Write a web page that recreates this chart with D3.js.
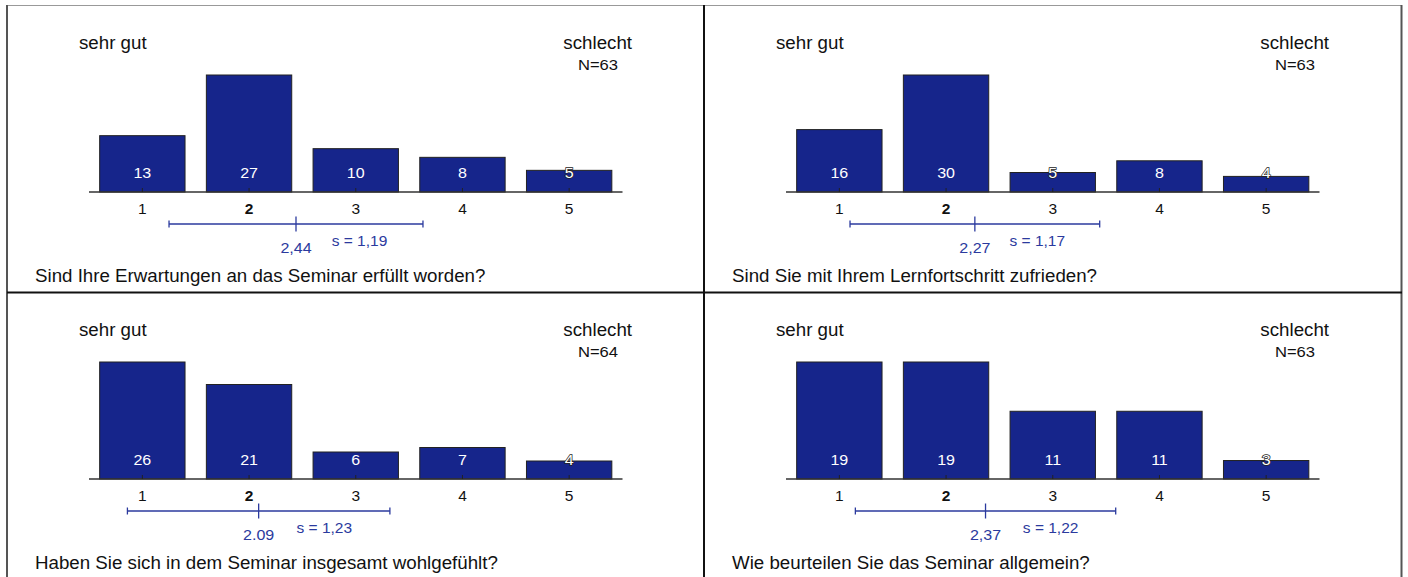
<!DOCTYPE html>
<html>
<head>
<meta charset="utf-8">
<script src="https://cdn.jsdelivr.net/npm/d3@7"></script>
<style>
  html, body { margin: 0; padding: 0; background: #fff; }
  svg { display: block; font-family: "Liberation Sans", Arial, sans-serif; }
</style>
</head>
<body>
<svg id="chart" width="1408" height="577"></svg>
<script>
// ---- data ----
const categories = [1, 2, 3, 4, 5];
const tickLabels = ["1", "2", "3", "4", "5"];
const questions = [
  "Sind Ihre Erwartungen an das Seminar erfüllt worden?",
  "Sind Sie mit Ihrem Lernfortschritt zufrieden?",
  "Haben Sie sich in dem Seminar insgesamt wohlgefühlt?",
  "Wie beurteilen Sie das Seminar allgemein?"
];
const counts1 = [13, 27, 10, 8, 5];
const counts2 = [16, 30, 5, 8, 4];
const counts3 = [26, 21, 6, 7, 4];
const counts4 = [19, 19, 11, 11, 3];
const means = [2.44, 2.27, 2.09, 2.37];
const meanLabels = ["2,44", "2,27", "2.09", "2,37"];
const sds = [1.19, 1.17, 1.23, 1.22];
const sdLabels = ["s = 1,19", "s = 1,17", "s = 1,23", "s = 1,22"];
const nValues = [63, 63, 64, 63];
const leftLabel = "sehr gut";
const rightLabel = "schlecht";
const medianCategory = 2; // bold tick label

const allCounts = [counts1, counts2, counts3, counts4];

// ---- layout ----
const svg = d3.select("#chart");
const origins = [[0, 0], [697, 0], [0, 287], [697, 287]];
const barColor = "#16258b";
const blue = "#2b3a9e";
const sx = 1.07; // horizontal text stretch

function wideText(g, x, y, size, anchor, txt, fill) {
  return g.append("text")
    .attr("transform", `translate(${x},${y}) scale(${sx},1)`)
    .attr("text-anchor", anchor)
    .attr("font-size", size)
    .attr("fill", fill || "#111")
    .text(txt);
}

allCounts.forEach((counts, i) => {
  const [ox, oy] = origins[i];
  const g = svg.append("g").attr("transform", `translate(${ox},${oy})`);

  const x = d3.scaleLinear().domain([0.5, 5.5]).range([89, 622.5]);
  const baseY = 192;
  const y = d3.scaleLinear().domain([0, d3.max(counts)]).range([baseY, 75]);
  const bw = x(1.4) - x(0.6);

  const data = categories.map((c, k) => ({ c, v: counts[k] }));

  // bars
  g.selectAll("rect.bar").data(data).join("rect")
    .attr("class", "bar")
    .attr("x", d => x(d.c) - bw / 2)
    .attr("y", d => y(d.v))
    .attr("width", bw)
    .attr("height", d => baseY - y(d.v))
    .attr("fill", barColor)
    .attr("stroke", "#222")
    .attr("stroke-width", 1);

  // baseline
  g.append("line")
    .attr("x1", x(0.5)).attr("x2", x(5.5))
    .attr("y1", baseY).attr("y2", baseY)
    .attr("stroke", "#333").attr("stroke-width", 1.5);

  // ticks
  g.selectAll("line.tick").data(data).join("line")
    .attr("class", "tick")
    .attr("x1", d => x(d.c)).attr("x2", d => x(d.c))
    .attr("y1", baseY - 4).attr("y2", baseY)
    .attr("stroke", "#222").attr("stroke-width", 1);

  // tick labels
  g.selectAll("text.tl").data(data).join("text")
    .attr("class", "tl")
    .attr("transform", d => `translate(${x(d.c)},214) scale(${sx},1)`)
    .attr("text-anchor", "middle")
    .attr("font-size", 14.5)
    .attr("font-weight", d => d.c === medianCategory ? "bold" : "normal")
    .attr("fill", "#111")
    .text((d, k) => tickLabels[k]);

  // value labels
  const labelBase = baseY - 14.5;
  g.selectAll("text.vl").data(data).join("text")
    .attr("class", "vl")
    .attr("transform", d => `translate(${x(d.c)},${labelBase}) scale(${sx},1)`)
    .attr("text-anchor", "middle")
    .attr("font-size", 15)
    .attr("fill", "#fff")
    .attr("stroke", d => (baseY - y(d.v)) < 25 ? "#222" : "none")
    .attr("stroke-width", 1.4)
    .attr("paint-order", "stroke")
    .text(d => d.v);

  // end labels
  wideText(g, 79, 49, 17.5, "start", leftLabel);
  wideText(g, 632, 49, 17.5, "end", rightLabel);
  wideText(g, 598, 70.3, 15.5, "middle", "N=" + nValues[i]);

  // mean / sd
  const m = means[i], s = sds[i];
  const sy = baseY + 32;
  g.append("line")
    .attr("x1", x(m - s)).attr("x2", x(m + s))
    .attr("y1", sy).attr("y2", sy)
    .attr("stroke", blue).attr("stroke-width", 1.3);
  [m - s, m + s].forEach(v => {
    g.append("line")
      .attr("x1", x(v)).attr("x2", x(v))
      .attr("y1", sy - 3.5).attr("y2", sy + 3.5)
      .attr("stroke", blue).attr("stroke-width", 1.3);
  });
  g.append("line")
    .attr("x1", x(m)).attr("x2", x(m))
    .attr("y1", sy - 7.5).attr("y2", sy + 7.5)
    .attr("stroke", blue).attr("stroke-width", 1.3);
  wideText(g, x(m), 253.3, 15, "middle", meanLabels[i], blue);
  wideText(g, (x(m) + x(m + s)) / 2, 246, 14.5, "middle", sdLabels[i], blue);

  // question
  wideText(g, 35, 281.7, 17.5, "start", questions[i]);
});

// frame
svg.append("line").attr("x1", 7).attr("x2", 1402).attr("y1", 5.5).attr("y2", 5.5)
  .attr("stroke", "#999").attr("stroke-width", 1);
svg.append("line").attr("x1", 7).attr("x2", 7).attr("y1", 5).attr("y2", 577)
  .attr("stroke", "#555").attr("stroke-width", 2);
svg.append("line").attr("x1", 1401.5).attr("x2", 1401.5).attr("y1", 5).attr("y2", 577)
  .attr("stroke", "#555").attr("stroke-width", 2);
svg.append("line").attr("x1", 704).attr("x2", 704).attr("y1", 5).attr("y2", 577)
  .attr("stroke", "#111").attr("stroke-width", 2);
svg.append("line").attr("x1", 7).attr("x2", 1402).attr("y1", 292.5).attr("y2", 292.5)
  .attr("stroke", "#111").attr("stroke-width", 2);
</script>
</body>
</html>
